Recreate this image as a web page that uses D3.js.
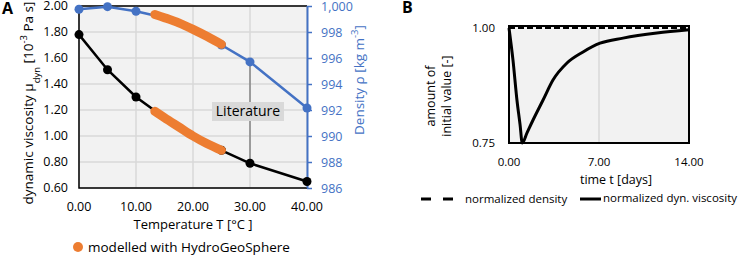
<!DOCTYPE html>
<html>
<head>
<meta charset="utf-8">
<script src="https://cdn.jsdelivr.net/npm/d3@7"></script>
<style>
  html, body { margin: 0; padding: 0; background: #fff; }
  svg { display: block; font-family: "Open Sans", "Noto Sans", sans-serif; }
</style>
</head>
<body>
<div id="vis"></div>
<script>
// Panel A: literature values vs. HydroGeoSphere output
const TEMP_LIT = [0, 5, 10, 15, 20, 25, 30, 40];
const VISC_LIT = [1.78, 1.51, 1.30, 1.14, 1.00, 0.89, 0.79, 0.65];
const DENS_LIT = [999.75, 999.95, 999.6, 999.1, 998.2, 997.0, 995.7, 992.15];

const TEMP_MOD = [13.3, 15, 17.5, 20, 22.5, 25];
const VISC_MOD = [1.19, 1.14, 1.07, 1.00, 0.94, 0.89];
const DENS_MOD = [999.35, 999.1, 998.7, 998.2, 997.65, 997.05];

const TEMP_TICKS = [0, 10, 20, 30, 40];
const VISC_TICKS = [0.6, 0.8, 1.0, 1.2, 1.4, 1.6, 1.8, 2.0];
const DENS_TICKS = [986, 988, 990, 992, 994, 996, 998, 1000];

// Panel B: normalized values over time
const TIME_B = [0, 0.31, 0.62, 0.86, 1.03, 1.4, 1.87, 2.64, 3.42, 4.51, 5.76, 7.08, 8.87, 11.5, 14];
const VISC_B = [1.0, 0.93, 0.843, 0.79, 0.75, 0.772, 0.80, 0.843, 0.887, 0.924, 0.948, 0.967, 0.978, 0.989, 0.996];
const TIME_DENS_B = [0, 14];
const DENS_B = [1.0, 1.0];
const TIME_TICKS = [0, 7, 14];
const NORM_TICKS = [0.75, 1.0];

const BLUE = "#4472c4";
const ORANGE = "#ed7d31";
const fmt2 = d3.format(".2f");

const svg = d3.select("#vis").append("svg").attr("width", 744).attr("height", 259);

// ── Panel A ─────────────────────────────────────────────────────────────
const ax = { l: 79, r: 307, t: 6, b: 188 };
const xA = d3.scaleLinear().domain([0, 40]).range([ax.l, ax.r]);
const yV = d3.scaleLinear().domain([0.6, 2.0]).range([ax.b, ax.t]);
const yD = d3.scaleLinear().domain([986, 1000]).range([ax.b, ax.t]);

const gA = svg.append("g");
gA.append("rect")
  .attr("x", ax.l).attr("y", ax.t).attr("width", ax.r - ax.l).attr("height", ax.b - ax.t)
  .attr("fill", "#f2f2f2");

// gridlines
gA.append("g").selectAll("line").data(VISC_TICKS).join("line")
  .attr("x1", ax.l).attr("x2", ax.r)
  .attr("y1", d => yV(d)).attr("y2", d => yV(d))
  .attr("stroke", "#d9d9d9").attr("stroke-width", 1.5);
gA.append("g").selectAll("line").data(TEMP_TICKS).join("line")
  .attr("x1", d => xA(d)).attr("x2", d => xA(d))
  .attr("y1", ax.t).attr("y2", ax.b)
  .attr("stroke", "#d9d9d9").attr("stroke-width", 1.5);

// frame
gA.append("path")
  .attr("d", `M${ax.r},${ax.t}H${ax.l}V${ax.b}H${ax.r}`)
  .attr("fill", "none").attr("stroke", "#000").attr("stroke-width", 1.5);

// left axis labels
gA.append("g").selectAll("text").data(VISC_TICKS).join("text")
  .attr("x", 68).attr("y", d => yV(d)).attr("dy", "0.35em")
  .attr("text-anchor", "end").style("font-size", "12.5px").attr("fill", "#000")
  .text(fmt2);

// bottom axis labels
gA.append("g").selectAll("text").data(TEMP_TICKS).join("text")
  .attr("x", d => xA(d)).attr("y", 207).attr("dy", "0.35em")
  .attr("text-anchor", "middle").style("font-size", "12.5px").attr("fill", "#000")
  .text(fmt2);

// right axis (density)
gA.append("g")
  .attr("transform", `translate(${ax.r},0)`)
  .call(d3.axisRight(yD).tickValues(DENS_TICKS).tickSize(5).tickPadding(9))
  .call(g => g.select(".domain").attr("stroke", BLUE).attr("stroke-width", 2)
    .attr("d", `M0.5,${ax.t}V${ax.b}`))
  .call(g => g.selectAll(".tick line").attr("stroke", BLUE).attr("stroke-width", 1.5))
  .call(g => g.selectAll(".tick text").attr("fill", BLUE)
    .style("font-size", "12.5px").style("font-family", "Open Sans, sans-serif"));

// axis titles
gA.append("text")
  .attr("transform", `translate(33,103) rotate(-90)`)
  .attr("text-anchor", "middle").style("font-size", "13.5px").attr("fill", "#000")
  .call(t => {
    t.append("tspan").text("dynamic viscosity μ");
    t.append("tspan").attr("baseline-shift", "sub").style("font-size", "9.5px").text("dyn");
    t.append("tspan").text(" [10");
    t.append("tspan").attr("baseline-shift", "super").style("font-size", "9.5px").text("-3");
    t.append("tspan").text(" Pa s]");
  });
gA.append("text")
  .attr("transform", `translate(364,80) rotate(-90)`)
  .attr("text-anchor", "middle").style("font-size", "13.5px").attr("fill", BLUE)
  .call(t => {
    t.append("tspan").text("Density ρ [kg m");
    t.append("tspan").attr("baseline-shift", "super").style("font-size", "9.5px").text("-3");
    t.append("tspan").text("]");
  });
gA.append("text")
  .attr("x", xA(20)).attr("y", 224).attr("dy", "0.35em")
  .attr("text-anchor", "middle").style("font-size", "13px").attr("fill", "#000")
  .text("Temperature T [°C ]");

// Literature callout
gA.append("line")
  .attr("x1", xA(30)).attr("x2", xA(30))
  .attr("y1", yD(DENS_LIT[6])).attr("y2", yV(VISC_LIT[6]))
  .attr("stroke", "#595959").attr("stroke-width", 1);
gA.append("rect")
  .attr("x", 212).attr("y", 102).attr("width", 72).attr("height", 19)
  .attr("fill", "#d9d9d9");
gA.append("text")
  .attr("x", 248).attr("y", 111.5).attr("dy", "0.35em")
  .attr("text-anchor", "middle").style("font-size", "14px").attr("fill", "#000")
  .text("Literature");

// literature lines + markers (markers inside the modelled range are hidden under it)
const tMin = TEMP_MOD[0], tMax = TEMP_MOD[TEMP_MOD.length - 1];
const shownIdx = TEMP_LIT.map((t, i) => i).filter(i => !(TEMP_LIT[i] > tMin && TEMP_LIT[i] < tMax));
const litLine = (yScale, vals) => d3.line()
  .x((d, i) => xA(TEMP_LIT[i])).y(d => yScale(d))(vals);

gA.append("path").attr("d", litLine(yD, DENS_LIT))
  .attr("fill", "none").attr("stroke", BLUE).attr("stroke-width", 2.5);
gA.append("g").selectAll("circle").data(shownIdx).join("circle")
  .attr("cx", i => xA(TEMP_LIT[i])).attr("cy", i => yD(DENS_LIT[i])).attr("r", 4.5)
  .attr("fill", BLUE);

gA.append("path").attr("d", litLine(yV, VISC_LIT))
  .attr("fill", "none").attr("stroke", "#000").attr("stroke-width", 2.5);
gA.append("g").selectAll("circle").data(shownIdx).join("circle")
  .attr("cx", i => xA(TEMP_LIT[i])).attr("cy", i => yV(VISC_LIT[i])).attr("r", 4.5)
  .attr("fill", "#000");

// modelled (HydroGeoSphere)
const modLine = (yScale, vals) => d3.line().curve(d3.curveMonotoneX)
  .x((d, i) => xA(TEMP_MOD[i])).y(d => yScale(d))(vals);
[[yD, DENS_MOD], [yV, VISC_MOD]].forEach(([s, v]) => {
  gA.append("path").attr("d", modLine(s, v))
    .attr("fill", "none").attr("stroke", ORANGE).attr("stroke-width", 9)
    .attr("stroke-linecap", "round");
});

// legend A
gA.append("circle").attr("cx", 78).attr("cy", 247).attr("r", 5).attr("fill", ORANGE);
gA.append("text").attr("x", 88).attr("y", 247).attr("dy", "0.35em")
  .style("font-size", "13.5px").attr("fill", "#000")
  .text("modelled with HydroGeoSphere");

svg.append("text").attr("x", 2).attr("y", 14)
  .style("font-size", "16px").style("font-weight", "bold").text("A");

// ── Panel B ─────────────────────────────────────────────────────────────
const bx = { l: 509, r: 689, t: 26, b: 143 };
const xB = d3.scaleLinear().domain([0, 14]).range([bx.l, bx.r]);
const yB = d3.scaleLinear().domain([0.75, 1.0]).range([bx.b, 28]);

const gB = svg.append("g");
gB.append("rect")
  .attr("x", bx.l).attr("y", bx.t).attr("width", bx.r - bx.l).attr("height", bx.b - bx.t)
  .attr("fill", "#f2f2f2");
gB.append("line")
  .attr("x1", xB(7)).attr("x2", xB(7)).attr("y1", bx.t).attr("y2", bx.b)
  .attr("stroke", "#d9d9d9").attr("stroke-width", 1.5);
gB.append("rect")
  .attr("x", bx.l).attr("y", bx.t).attr("width", bx.r - bx.l).attr("height", bx.b - bx.t)
  .attr("fill", "none").attr("stroke", "#000").attr("stroke-width", 2);

gB.append("path")
  .attr("d", d3.line().x((d, i) => xB(TIME_DENS_B[i])).y(d => yB(d))(DENS_B))
  .attr("fill", "none").attr("stroke", "#000").attr("stroke-width", 2)
  .attr("stroke-dasharray", "6,3");
gB.append("path")
  .attr("d", d3.line().curve(d3.curveMonotoneX)
    .x((d, i) => xB(TIME_B[i])).y(d => yB(d))(VISC_B))
  .attr("fill", "none").attr("stroke", "#000").attr("stroke-width", 3)
  .attr("stroke-linejoin", "round");

gB.append("g").selectAll("text").data(NORM_TICKS).join("text")
  .attr("x", 495).attr("y", d => yB(d)).attr("dy", "0.35em")
  .attr("text-anchor", "end").style("font-size", "11.5px").text(fmt2);
gB.append("g").selectAll("text").data(TIME_TICKS).join("text")
  .attr("x", d => xB(d)).attr("y", 162).attr("dy", "0.35em")
  .attr("text-anchor", "middle").style("font-size", "11.5px").text(fmt2);

gB.append("text")
  .attr("x", 616).attr("y", 180).attr("dy", "0.35em")
  .attr("text-anchor", "middle").style("font-size", "12.5px").text("time t [days]");
gB.append("text")
  .attr("transform", "translate(0,96) rotate(-90)")
  .attr("text-anchor", "middle").style("font-size", "12.5px")
  .call(t => {
    t.append("tspan").attr("x", 0).attr("y", 435).text("amount of");
    t.append("tspan").attr("x", 0).attr("y", 451).text("initial value [-]");
  });

// legend B
gB.append("line").attr("x1", 421).attr("x2", 453).attr("y1", 199).attr("y2", 199)
  .attr("stroke", "#000").attr("stroke-width", 3).attr("stroke-dasharray", "10,12");
gB.append("text").attr("x", 465).attr("y", 199).attr("dy", "0.35em")
  .style("font-size", "11.5px").text("normalized density");
gB.append("line").attr("x1", 580).attr("x2", 601).attr("y1", 199).attr("y2", 199)
  .attr("stroke", "#000").attr("stroke-width", 3);
gB.append("text").attr("x", 603).attr("y", 198).attr("dy", "0.35em")
  .style("font-size", "11.5px").text("normalized dyn. viscosity");

svg.append("text").attr("x", 402).attr("y", 13)
  .style("font-size", "16px").style("font-weight", "bold").text("B");
</script>
</body>
</html>
